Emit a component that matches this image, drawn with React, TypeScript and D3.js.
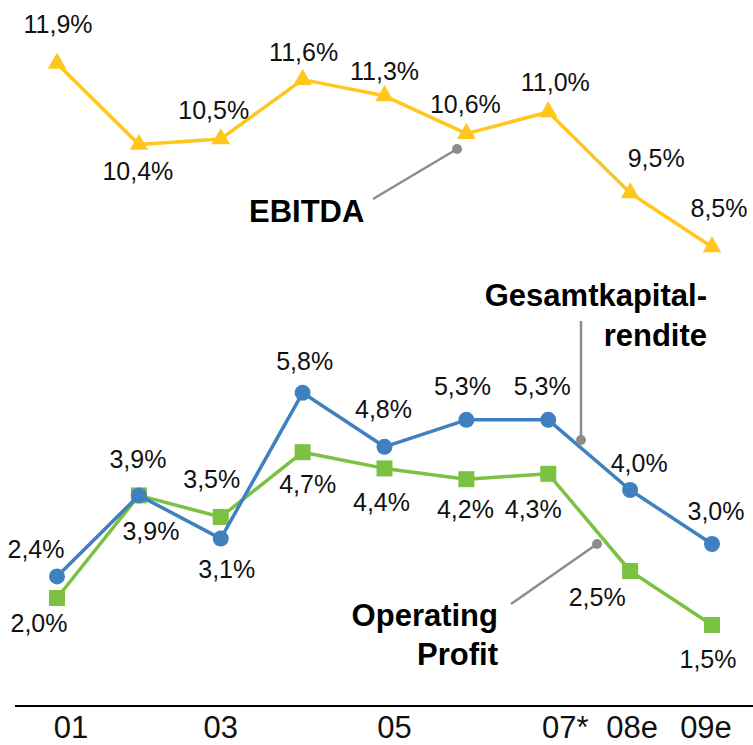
import React from "react";
import * as d3 from "d3";

// years on the x axis, only some of them get a tick label
const years = ["01", "02", "03", "04", "05", "06", "07*", "08e", "09e"];
const tickLabels = ["01", "03", "05", "07*", "08e", "09e"];

// margins in percent
const ebitda = [11.9, 10.4, 10.5, 11.6, 11.3, 10.6, 11.0, 9.5, 8.5];
const gesamtkapitalrendite = [2.4, 3.9, 3.1, 5.8, 4.8, 5.3, 5.3, 4.0, 3.0];
const operatingProfit = [2.0, 3.9, 3.5, 4.7, 4.4, 4.2, 4.3, 2.5, 1.5];

// hand placed value labels: [dx, dy] relative to the point
const ebitdaLabelOffsets = [[1, -30], [-1, 36], [-7, -20], [1, -19], [0, -16], [-1, -21], [7, -21], [26, -26], [7, -30]];
const gkrLabelOffsets = [[-21, -18], [12, 45], [6, 39], [2, -23], [-1, -29], [-4, -25], [-6, -25], [9, -18], [4, -24]];
const opLabelOffsets = [[-18, 34], [-1, -27], [-9, -29], [5, 41], [-3, 43], [-1, 39], [-15, 44], [-33, 35], [-4, 43]];
const tickNudge: Record<string, number> = { "01": 14, "03": 0, "05": 10, "07*": 17, "08e": 2, "09e": -6 };

const W = 753;
const H = 745;
const FONT = "'Liberation Sans', Arial, Helvetica, sans-serif";

const YELLOW = "#FFC61E";
const BLUE = "#3F80C0";
const GREEN = "#7BC142";
const GREY = "#8C8C8C";

const fmt = (v: number) => v.toFixed(1).replace(".", ",") + "%";

export default function App() {
  const x = d3.scalePoint<string>().domain(years).range([57, 712]);
  const y = d3.scaleLinear().domain([0, 13]).range([706, 4]);

  const line = d3
    .line<number>()
    .x((_, i) => x(years[i]) as number)
    .y((d) => y(d));

  const triangle = d3.symbol().type(d3.symbolTriangle).size(150)() as string;

  const labels = (values: number[], offsets: number[][], key: string) =>
    values.map((v, i) => (
      <text
        key={key + i}
        x={(x(years[i]) as number) + offsets[i][0]}
        y={y(v) + offsets[i][1]}
        textAnchor="middle"
        fontSize={25}
        fill="#111"
      >
        {fmt(v)}
      </text>
    ));

  return (
    <svg
      width={W}
      height={H}
      style={{ position: "absolute", left: 0, top: 0, background: "#fff" }}
      fontFamily={FONT}
    >
      {/* x axis */}
      <line x1={15} x2={W} y1={706} y2={706} stroke="#000" strokeWidth={2.2} />
      {tickLabels.map((t) => (
        <text key={t} x={(x(t) as number) + tickNudge[t]} y={738} textAnchor="middle" fontSize={31} fill="#111">
          {t}
        </text>
      ))}

      {/* EBITDA */}
      <path d={line(ebitda) || ""} fill="none" stroke={YELLOW} strokeWidth={3.5} strokeLinejoin="round" />
      {ebitda.map((v, i) => (
        <path key={"t" + i} d={triangle} transform={`translate(${x(years[i])},${y(v)})`} fill={YELLOW} />
      ))}

      {/* Operating Profit */}
      <path d={line(operatingProfit) || ""} fill="none" stroke={GREEN} strokeWidth={3.5} strokeLinejoin="round" />
      {operatingProfit.map((v, i) => (
        <rect key={"s" + i} x={(x(years[i]) as number) - 8} y={y(v) - 8} width={16} height={16} fill={GREEN} />
      ))}

      {/* Gesamtkapitalrendite */}
      <path d={line(gesamtkapitalrendite) || ""} fill="none" stroke={BLUE} strokeWidth={3.5} strokeLinejoin="round" />
      {gesamtkapitalrendite.map((v, i) => (
        <circle key={"c" + i} cx={x(years[i]) as number} cy={y(v)} r={8} fill={BLUE} />
      ))}

      {labels(ebitda, ebitdaLabelOffsets, "e")}
      {labels(gesamtkapitalrendite, gkrLabelOffsets, "g")}
      {labels(operatingProfit, opLabelOffsets, "o")}

      {/* series callouts */}
      <g stroke={GREY} strokeWidth={2.5}>
        <line x1={373} y1={199} x2={457} y2={149} />
        <line x1={581} y1={321} x2={581} y2={440} />
        <line x1={511} y1={604} x2={597} y2={544} />
      </g>
      <g fill={GREY}>
        <circle cx={457} cy={149} r={5} />
        <circle cx={581} cy={440} r={5} />
        <circle cx={597} cy={544} r={5} />
      </g>

      <g fontWeight="bold" fontSize={31} fill="#000">
        <text x={249} y={222}>EBITDA</text>
        <text x={707} y={306} textAnchor="end">Gesamtkapital-</text>
        <text x={707} y={346} textAnchor="end">rendite</text>
        <text x={498} y={626} textAnchor="end">Operating</text>
        <text x={498} y={665} textAnchor="end">Profit</text>
      </g>
    </svg>
  );
}
